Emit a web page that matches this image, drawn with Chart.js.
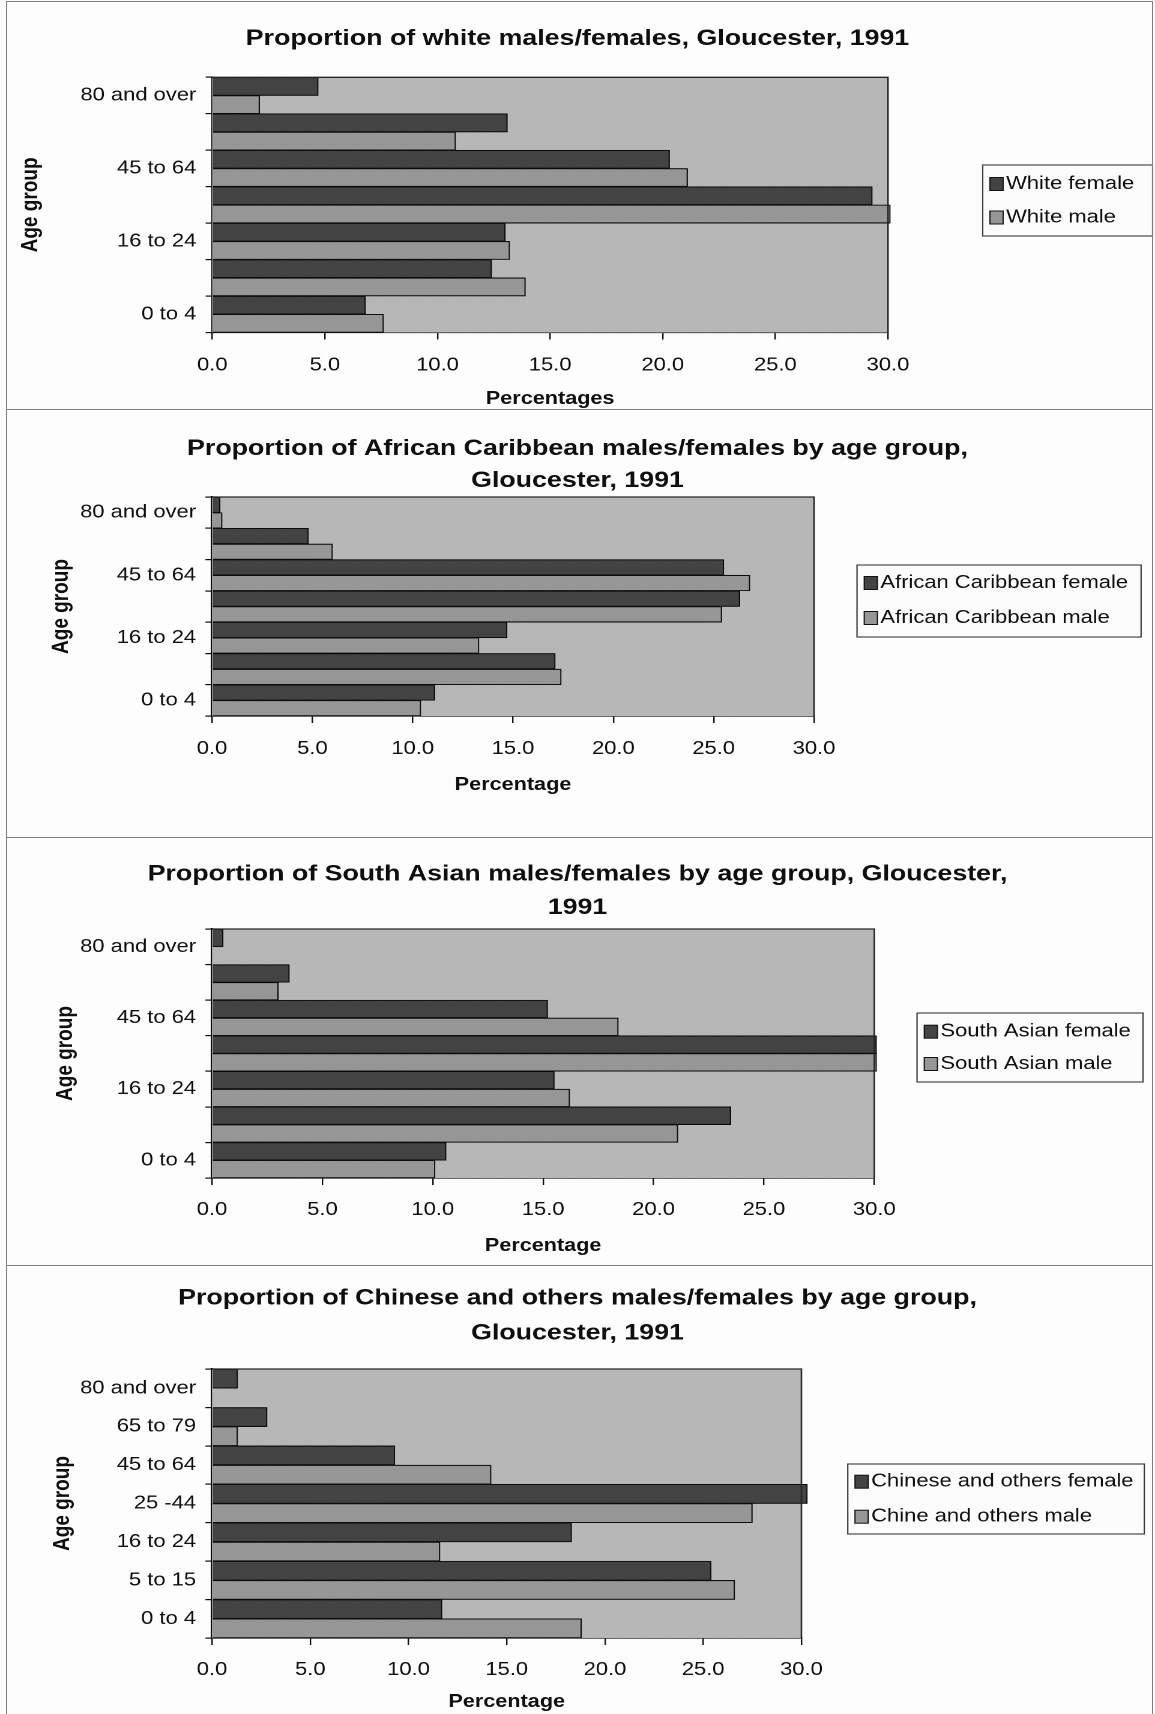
<!DOCTYPE html>
<html>
<head>
<meta charset="utf-8">
<title>Age structure by ethnic group, Gloucester, 1991</title>
<script src="https://cdn.jsdelivr.net/npm/chart.js@4.4.1/dist/chart.umd.min.js"></script>
<style>
  html, body { margin: 0; padding: 0; background: #fdfdfd; }
  body { width: 1155px; height: 1714px; position: relative; overflow: hidden; }
  .panel { position: absolute; left: 0; width: 962px; transform-origin: 0 0; }
  .panel canvas { display: block; }
  .rule { position: absolute; background: #808080; }
</style>
</head>
<body>

<div class="panel" id="panel1" style="top:2px;height:408px"><canvas id="chart1" width="962" height="408"></canvas></div>
<div class="panel" id="panel2" style="top:410px;height:427px"><canvas id="chart2" width="962" height="427"></canvas></div>
<div class="panel" id="panel3" style="top:837px;height:427px"><canvas id="chart3" width="962" height="427"></canvas></div>
<div class="panel" id="panel4" style="top:1264px;height:450px"><canvas id="chart4" width="962" height="450"></canvas></div>

<!-- page frame around the four charts -->
<div class="rule" style="left:6px;top:1px;width:1px;height:1713px"></div>
<div class="rule" style="left:1152px;top:1px;width:1px;height:1713px"></div>
<div class="rule" style="left:6px;top:1px;width:1147px;height:1px"></div>
<div class="rule" style="left:6px;top:409px;width:1147px;height:1px"></div>
<div class="rule" style="left:6px;top:837px;width:1147px;height:1px"></div>
<div class="rule" style="left:6px;top:1265px;width:1147px;height:1px"></div>

<script>
// ---- data: percentage of each sex in each age group ----
const ageGroups = ['80 and over', '65 to 79', '45 to 64', '25 to 44', '16 to 24', '5 to 15', '0 to 4'];
const ageGroupsChinese = ['80 and over', '65 to 79', '45 to 64', '25 -44', '16 to 24', '5 to 15', '0 to 4'];
const percentTicks = [0, 5, 10, 15, 20, 25, 30];

const whiteFemale = [4.7, 13.1, 20.3, 29.3, 13.0, 12.4, 6.8];
const whiteMale   = [2.1, 10.8, 21.1, 30.1, 13.2, 13.9, 7.6];

const afCarFemale = [0.4, 4.8, 25.5, 26.3, 14.7, 17.1, 11.1];
const afCarMale   = [0.5, 6.0, 26.8, 25.4, 13.3, 17.4, 10.4];

const saFemale = [0.5, 3.5, 15.2, 30.1, 15.5, 23.5, 10.6];
const saMale   = [0.0, 3.0, 18.4, 30.1, 16.2, 21.1, 10.1];

const chFemale = [1.3, 2.8, 9.3, 30.3, 18.3, 25.4, 11.7];
const chMale   = [0.0, 1.3, 14.2, 27.5, 11.6, 26.6, 18.8];

// ---- styling ----
const STRETCH = 1155 / 962;           // the charts are drawn wide, Helvetica-like lettering
const FONT = '"Liberation Sans", Arial, Helvetica, sans-serif';
const INK = '#0e0e0e';

// stippled fills in the manner of an old mono printer
function stipple(a, b) {
  const c = document.createElement('canvas');
  c.width = 2; c.height = 2;
  const g = c.getContext('2d');
  g.fillStyle = a; g.fillRect(0, 0, 2, 2);
  g.fillStyle = b; g.fillRect(0, 0, 1, 1); g.fillRect(1, 1, 1, 1);
  return g.createPattern(c, 'repeat');
}
const FEMALE_FILL = stipple('#363636', '#525252');
const MALE_FILL = stipple('#8a8a8a', '#a4a4a4');
const PLOT_BG = stipple('#acacac', '#c3c3c3');

Chart.defaults.font.family = FONT;
Chart.defaults.color = INK;

// grey plot area, dark frame and a boxed legend to the right
const plotDecor = {
  id: 'plotDecor',
  beforeDatasetsDraw(chart) {
    const { ctx, chartArea: a } = chart;
    ctx.save();
    ctx.fillStyle = PLOT_BG;
    ctx.fillRect(a.left, a.top, a.right - a.left, a.bottom - a.top);
    ctx.restore();
  },
  afterDatasetsDraw(chart) {
    const { ctx, chartArea: a } = chart;
    ctx.save();
    ctx.strokeStyle = '#262626';
    ctx.lineWidth = 1.3;
    ctx.beginPath();
    ctx.moveTo(a.left, a.top);
    ctx.lineTo(a.right, a.top);
    ctx.lineTo(a.right, a.bottom);
    ctx.stroke();
    ctx.restore();
  },
  afterDraw(chart, args, opts) {
    const { ctx } = chart;
    const { left, top, width, height, firstRow, rowGap } = opts;
    ctx.save();
    ctx.fillStyle = '#fcfcfc';
    ctx.fillRect(left, top, width, height);
    ctx.strokeStyle = '#3a3a3a';
    ctx.lineWidth = 1.1;
    ctx.strokeRect(left, top, width, height);
    ctx.font = '18.3px ' + FONT;
    ctx.textBaseline = 'middle';
    ctx.textAlign = 'left';
    chart.data.datasets.forEach((ds, i) => {
      const cy = top + firstRow + i * rowGap;
      ctx.fillStyle = ds.backgroundColor;
      ctx.fillRect(left + 6, cy - 6.5, 11, 13);
      ctx.strokeStyle = '#111';
      ctx.lineWidth = 1;
      ctx.strokeRect(left + 6, cy - 6.5, 11, 13);
      ctx.fillStyle = INK;
      ctx.fillText(ds.label, left + 19.5, cy);
    });
    ctx.restore();
  }
};

function drawPanel(p) {
  const holder = document.getElementById(p.holder);
  holder.style.transform = 'scaleX(' + STRETCH + ')';
  const labels = p.labels;
  return new Chart(document.getElementById(p.canvas), {
    type: 'bar',
    data: {
      labels: labels,
      datasets: [
        { label: p.femaleLabel, data: p.female, backgroundColor: FEMALE_FILL,
          borderColor: '#0c0c0c', borderWidth: 1.1, xAxisID: 'x', yAxisID: 'y', clip: false },
        { label: p.maleLabel, data: p.male, backgroundColor: MALE_FILL,
          borderColor: '#0c0c0c', borderWidth: 1.1, xAxisID: 'x', yAxisID: 'y', clip: false }
      ]
    },
    options: {
      indexAxis: 'y',
      responsive: false,
      devicePixelRatio: 2,
      animation: false,
      events: [],
      datasets: { bar: { categoryPercentage: 1.0, barPercentage: 1.0 } },
      layout: { padding: 0 },
      scales: {
        x: {
          type: 'linear',
          min: 0, max: 30,
          afterBuildTicks(scale) { scale.ticks = percentTicks.map(v => ({ value: v })); },
          afterFit(scale) { scale.height = p.xAxisHeight; },
          ticks: {
            font: { size: 18.3 },
            color: INK,
            padding: p.xTickPad,
            maxRotation: 0,
            callback: v => v.toFixed(1)
          },
          grid: { display: true, drawOnChartArea: false, drawTicks: true, tickLength: 7, color: INK, lineWidth: 1.2 },
          border: { display: true, color: INK, width: 1.6 },
          title: {
            display: true, text: p.xTitle, color: INK,
            font: { size: 18, weight: 'bold', lineHeight: 1 },
            padding: { top: 0, bottom: p.xTitlePad }
          }
        },
        y: {
          type: 'category',
          afterFit(scale) { scale.width = p.plotLeft; },
          ticks: {
            font: { size: 18.3 },
            color: INK,
            padding: 7.8,
            autoSkip: false,
            callback: (v, i) => (p.everyLabel || i % 2 === 0) ? labels[i] : ''
          },
          grid: { display: true, drawOnChartArea: false, drawTicks: true, tickLength: 5.5, color: INK, lineWidth: 1.2 },
          border: { display: true, color: INK, width: 2 },
          title: {
            display: true, text: 'Age group', color: INK,
            font: { size: 19, weight: 'bold', lineHeight: 1 },
            padding: { top: p.yTitlePad, bottom: 0 }
          }
        },
        // empty column that keeps room for the legend on the right
        legendRoom: {
          type: 'linear', position: 'right', display: true,
          afterFit(scale) { scale.width = p.rightRoom; },
          ticks: { display: false },
          grid: { display: false },
          border: { display: false }
        }
      },
      plugins: {
        legend: { display: false },
        tooltip: { enabled: false },
        title: {
          display: true,
          text: p.title,
          color: INK,
          font: { size: 22.3, weight: 'bold', lineHeight: p.titleLine / 22.3 },
          padding: { top: p.titlePadTop, bottom: p.titlePadBottom }
        },
        plotDecor: p.legendBox
      }
    },
    plugins: [plotDecor]
  });
}

drawPanel({
  holder: 'panel1', canvas: 'chart1', labels: ageGroups,
  title: 'Proportion of white males/females, Gloucester, 1991',
  titleLine: 33, titlePadTop: 20.5, titlePadBottom: 21.8,
  female: whiteFemale, male: whiteMale,
  femaleLabel: 'White female', maleLabel: 'White male',
  xTitle: 'Percentages',
  plotLeft: 176.8, rightRoom: 222.4, xAxisHeight: 77.5, xTickPad: 15, xTitlePad: 2, yTitlePad: 16.2,
  legendBox: { left: 818.5, top: 163, width: 141.5, height: 71, firstRow: 19, rowGap: 33.5 }
});

drawPanel({
  holder: 'panel2', canvas: 'chart2', labels: ageGroups,
  title: ['Proportion of African Caribbean males/females by age group,', 'Gloucester, 1991'],
  titleLine: 32, titlePadTop: 23, titlePadBottom: 0,
  female: afCarFemale, male: afCarMale,
  femaleLabel: 'African Caribbean female', maleLabel: 'African Caribbean male',
  xTitle: 'Percentage',
  plotLeft: 176.6, rightRoom: 284, xAxisHeight: 121, xTickPad: 15.2, xTitlePad: 43, yTitlePad: 42,
  legendBox: { left: 713.8, top: 155, width: 236.6, height: 72, firstRow: 18, rowGap: 35 }
});

drawPanel({
  holder: 'panel3', canvas: 'chart3', labels: ageGroups,
  title: ['Proportion of South Asian males/females by age group, Gloucester,', '1991'],
  titleLine: 33.5, titlePadTop: 20.75, titlePadBottom: 4.25,
  female: saFemale, male: saMale,
  femaleLabel: 'South Asian female', maleLabel: 'South Asian male',
  xTitle: 'Percentage',
  plotLeft: 176.6, rightRoom: 233.8, xAxisHeight: 86, xTickPad: 14.2, xTitlePad: 9, yTitlePad: 45.5,
  legendBox: { left: 763.8, top: 176, width: 188.2, height: 69, firstRow: 18.7, rowGap: 32.3 }
});

drawPanel({
  holder: 'panel4', canvas: 'chart4', labels: ageGroupsChinese, everyLabel: true,
  title: ['Proportion of Chinese and others males/females by age group,', 'Gloucester, 1991'],
  titleLine: 35, titlePadTop: 17, titlePadBottom: 18,
  female: chFemale, male: chMale,
  femaleLabel: 'Chinese and others female', maleLabel: 'Chine and others male',
  xTitle: 'Percentage',
  plotLeft: 176.6, rightRoom: 294.5, xAxisHeight: 76, xTickPad: 14.2, xTitlePad: 3, yTitlePad: 43,
  legendBox: { left: 706.1, top: 200, width: 247, height: 70, firstRow: 17.7, rowGap: 35 }
});
</script>
</body>
</html>
